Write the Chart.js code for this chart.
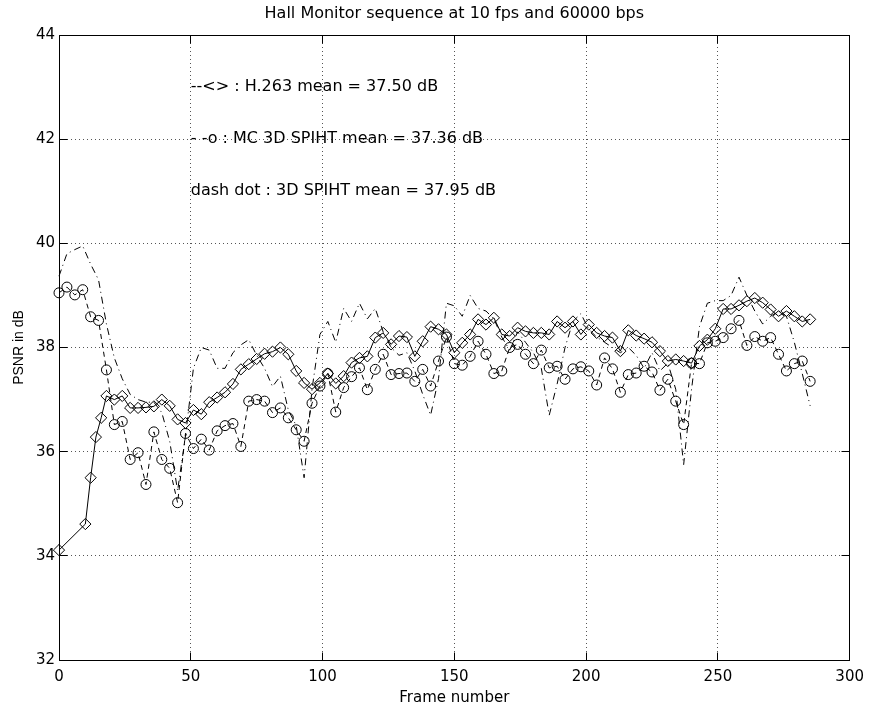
<!DOCTYPE html>
<html><head><meta charset="utf-8">
<script src="https://cdn.jsdelivr.net/npm/chart.js@4/dist/chart.umd.min.js"></script>
<style>html,body{margin:0;padding:0;background:#fff}#wrap{width:872px;height:712px}</style>
</head><body><div id="wrap"><canvas id="c" width="872" height="712"></canvas></div>
<script>
// ---- data ----
const frames = [0,3,6,9,12,15,18,21,24,27,30,33,
36,39,42,45,48,51,54,57,60,63,66,69,
72,75,78,81,84,87,90,93,96,99,102,105,
108,111,114,117,120,123,126,129,132,135,138,141,
144,147,150,153,156,159,162,165,168,171,174,177,
180,183,186,189,192,195,198,201,204,207,210,213,
216,219,222,225,228,231,234,237,240,243,246,249,
252,255,258,261,264,267,270,273,276,279,282,285];

const h263Frames = [0,10,12,14,16,18,21,24,27,30,33,36,
39,42,45,48,51,54,57,60,63,66,69,72,
75,78,81,84,87,90,93,96,99,102,105,108,
111,114,117,120,123,126,129,132,135,138,141,144,
147,150,153,156,159,162,165,168,171,174,177,180,
183,186,189,192,195,198,201,204,207,210,213,216,
219,222,225,228,231,234,237,240,243,246,249,252,
255,258,261,264,267,270,273,276,279,282,285];

const h263 = [34.11,34.61,35.50,36.28,36.65,37.07,37.00,37.07,36.84,36.84,36.85,36.87,
37.00,36.88,36.62,36.55,36.80,36.72,36.95,37.04,37.14,37.30,37.58,37.68,
37.78,37.88,37.92,38.00,37.87,37.55,37.32,37.20,37.32,37.50,37.31,37.45,
37.71,37.80,37.83,38.19,38.28,38.06,38.22,38.20,37.83,38.12,38.40,38.35,
38.25,37.90,38.09,38.25,38.54,38.44,38.57,38.25,38.22,38.38,38.31,38.28,
38.28,38.25,38.50,38.38,38.50,38.25,38.44,38.28,38.22,38.19,37.93,38.33,
38.23,38.17,38.10,37.93,37.74,37.77,37.74,37.70,38.03,38.15,38.36,38.74,
38.74,38.81,38.89,38.95,38.86,38.73,38.60,38.70,38.60,38.50,38.54];

const mc3dSpiht = [39.05,39.16,39.01,39.11,38.59,38.52,37.57,36.52,36.58,35.85,35.98,35.37,
36.38,35.85,35.68,35.02,36.35,36.06,36.24,36.03,36.40,36.50,36.54,36.10,
36.97,37.00,36.97,36.75,36.84,36.65,36.42,36.20,36.93,37.26,37.50,36.76,
37.23,37.44,37.61,37.19,37.58,37.87,37.48,37.50,37.51,37.35,37.58,37.26,
37.74,38.20,37.69,37.66,37.83,38.12,37.87,37.50,37.55,38.00,38.06,37.87,
37.69,37.95,37.61,37.64,37.39,37.59,37.63,37.55,37.28,37.80,37.59,37.14,
37.48,37.51,37.64,37.53,37.18,37.39,36.97,36.52,37.70,37.69,38.09,38.12,
38.19,38.36,38.52,38.04,38.21,38.12,38.19,37.87,37.55,37.69,37.74,37.35];

const spiht3d = [39.37,39.80,39.88,39.95,39.60,39.30,38.45,37.80,37.40,37.10,37.00,36.95,
36.95,36.75,36.20,35.25,36.30,37.60,38.00,37.95,37.60,37.60,37.90,38.05,
38.15,37.85,37.60,37.25,37.45,36.80,36.50,35.50,37.20,38.25,38.50,38.10,
38.75,38.50,38.85,38.55,38.75,38.30,38.00,37.85,37.90,37.55,37.10,36.70,
37.40,38.85,38.80,38.60,39.00,38.75,38.70,38.55,38.20,37.95,38.30,38.10,
37.90,37.60,36.70,37.30,38.00,38.50,38.65,38.35,38.20,38.10,38.00,37.90,
38.00,37.85,37.60,37.90,37.55,37.70,37.20,35.75,37.20,38.40,38.85,38.90,
38.90,39.00,39.35,39.00,38.70,38.45,38.60,38.70,38.60,38.10,37.50,36.88];

const xTicks = [0,50,100,150,200,250,300];
const yTicks = [32,34,36,38,40,42,44];
const titleText = 'Hall Monitor sequence at 10 fps and 60000 bps';
const xTitle = 'Frame number';
const yTitle = 'PSNR in dB';
const noteTexts = ['--<> : H.263 mean = 37.50 dB', '- -o : MC 3D SPIHT mean = 37.36 dB', 'dash dot : 3D SPIHT mean = 37.95 dB'];
const noteAnchorX = 50;
const noteAnchorY = [43, 42, 41];

// ---- drawing ----
const TXT = '"DejaVu Sans", sans-serif';
const pts = (xs, ys) => xs.map((x, i) => ({x: x, y: ys[i]}));
const px = v => Math.floor(v) + 0.5;

const boxPlugin = {
  id: 'box',
  afterDraw(chart) {
    const {ctx, chartArea: a, scales: {x, y}} = chart;
    const L = px(a.left), R = px(a.right), T = px(a.top), B = px(a.bottom);
    ctx.save();
    ctx.strokeStyle = '#000';
    ctx.lineWidth = 1;
    ctx.setLineDash([]);
    ctx.strokeRect(L, T, R - L, B - T);
    ctx.beginPath();
    const tl = 8;
    xTicks.forEach(v => {
      const X = px(x.getPixelForValue(v));
      ctx.moveTo(X, B); ctx.lineTo(X, B - tl);
      ctx.moveTo(X, T); ctx.lineTo(X, T + tl);
    });
    yTicks.forEach(v => {
      const Y = px(y.getPixelForValue(v));
      ctx.moveTo(L, Y); ctx.lineTo(L + tl, Y);
      ctx.moveTo(R, Y); ctx.lineTo(R - tl, Y);
    });
    ctx.stroke();
    ctx.fillStyle = '#000';
    ctx.font = '16px ' + TXT;
    ctx.textAlign = 'center';
    ctx.textBaseline = 'middle';
    ctx.fillText(titleText, (a.left + a.right) / 2, 14);
    ctx.textAlign = 'left';
    noteTexts.forEach((t, i) => {
      ctx.fillText(t, x.getPixelForValue(noteAnchorX), y.getPixelForValue(noteAnchorY[i]));
    });
    ctx.restore();
  }
};

const common = {borderColor: '#000', borderWidth: 1, fill: false, tension: 0, clip: false,
  pointBorderColor: '#000', pointBackgroundColor: 'rgba(0,0,0,0)', pointBorderWidth: 1, pointHoverRadius: 0};

new Chart(document.getElementById('c').getContext('2d'), {
  type: 'line',
  data: {
    datasets: [
      Object.assign({}, common, {label: 'H.263', data: pts(h263Frames, h263), pointStyle: 'rectRot', pointRadius: 5.6}),
      Object.assign({}, common, {label: 'MC 3D SPIHT', data: pts(frames, mc3dSpiht), pointStyle: 'circle', pointRadius: 5, borderDash: [5, 4]}),
      Object.assign({}, common, {label: '3D SPIHT', data: pts(frames, spiht3d), pointRadius: 0, borderDash: [7, 4, 1, 4]})
    ]
  },
  options: {
    responsive: false,
    animation: false,
    devicePixelRatio: 1,
    events: [],
    layout: {padding: {left: 0, right: 20, top: 35, bottom: 0}},
    plugins: {legend: {display: false}, tooltip: {enabled: false}, title: {display: false}},
    scales: {
      x: {
        type: 'linear', min: 0, max: 300,
        afterBuildTicks: s => { s.ticks = xTicks.map(v => ({value: v})); },
        afterFit: s => { s.height = 52; },
        grid: {color: '#555', lineWidth: 1, drawTicks: false},
        border: {display: false, dash: [1, 3]},
        ticks: {padding: 8, maxRotation: 0, color: '#000', font: {family: TXT, size: 15}},
        title: {display: true, text: xTitle, color: '#000', font: {family: TXT, size: 15}, padding: {top: 0, bottom: 5}}
      },
      y: {
        type: 'linear', min: 32, max: 44,
        afterBuildTicks: s => { s.ticks = yTicks.map(v => ({value: v})); },
        afterFit: s => { s.width = 59; },
        grid: {color: '#555', lineWidth: 1, drawTicks: false},
        border: {display: false, dash: [1, 3]},
        ticks: {padding: 4, color: '#000', font: {family: TXT, size: 15}},
        title: {display: true, text: yTitle, color: '#000', font: {family: '"Liberation Sans", Arial, sans-serif', size: 14}, padding: {top: 11, bottom: 0}}
      }
    }
  },
  plugins: [boxPlugin]
});
</script>
</body></html>
